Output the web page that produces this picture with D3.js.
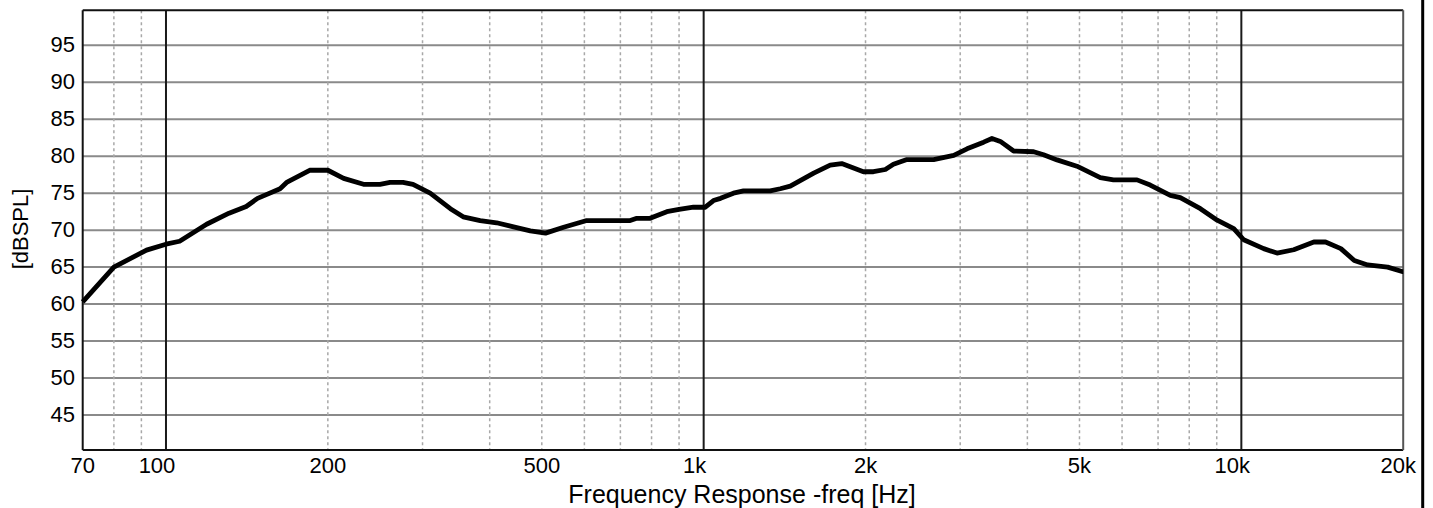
<!DOCTYPE html>
<html lang="en">
<head>
<meta charset="UTF-8">
<script src="https://d3js.org/d3.v7.min.js"></script>
<style>
    body { margin: 0; background: #fff; }
    svg { display: block; font-family: "Liberation Sans", Arial, sans-serif; }
    .tick-label { font-size: 22px; fill: #000; }
    .axis-title { font-size: 25px; fill: #000; }
</style>
<title>Frequency Response</title>
</head>
<body>
<svg id="chart" width="1433" height="508"></svg>
<script>
    var freqs = [70, 80, 92, 100, 106, 119, 131, 141, 148, 163, 168, 185, 200, 214, 233, 250,
        261, 276, 288, 310, 338, 357, 384, 412, 443, 476, 508, 549, 606, 730, 751, 795, 854, 900,
        957, 1007, 1043, 1075, 1136, 1186, 1330, 1388, 1449, 1602, 1719, 1806, 1982, 2069, 2177,
        2254, 2388, 2677, 2918, 3089, 3317, 3437, 3563, 3771, 4109, 4287, 4542, 4945, 5466, 5782,
        6398, 6769, 7378, 7700, 8392, 9017, 9680, 10101, 11004, 11650, 12515, 13640, 14339,
        15314, 16219, 17174, 18712, 19906, 20000];
    var spl = [60.3, 65.0, 67.3, 68.1, 68.5, 70.8, 72.3, 73.2, 74.3, 75.6, 76.5, 78.1, 78.1, 77.0, 76.2, 76.2,
        76.45, 76.45, 76.2, 75.0, 72.9, 71.8, 71.3, 71.0, 70.45, 69.9, 69.6, 70.4, 71.3, 71.3, 71.6, 71.6, 72.5, 72.8,
        73.1, 73.1, 74.0, 74.3, 75.0, 75.3, 75.3, 75.6, 75.95, 77.7, 78.8, 79.0, 77.9, 77.9, 78.2,
        78.9, 79.55, 79.55, 80.1, 81.0, 81.9, 82.4, 82.0, 80.7, 80.6, 80.2, 79.5, 78.65, 77.1, 76.8,
        76.8, 76.1, 74.7, 74.4, 72.9, 71.35, 70.2, 68.7, 67.5, 66.9, 67.35, 68.4, 68.4,
        67.5, 65.9, 65.3, 65.0, 64.4, 64.4];

    var yTicks = [45, 50, 55, 60, 65, 70, 75, 80, 85, 90, 95];
    var xTicks = [70, 100, 200, 500, 1000, 2000, 5000, 10000, 20000];
    var xTickLabels = ["70", "100", "200", "500", "1k", "2k", "5k", "10k", "20k"];
    var majorLines = [100, 1000, 10000];
    var minorLines = [80, 90, 200, 300, 400, 500, 600, 700, 800, 900,
        2000, 3000, 4000, 5000, 6000, 7000, 8000, 9000];

    var plotLeft = 82.7, plotRight = 1403.2, plotTop = 10.3, plotBottom = 450;

    var svg = d3.select("#chart");

    var x = d3.scaleLog().domain([70, 20000]).range([plotLeft, plotRight]);
    var y = d3.scaleLinear().domain([40.27, 99.73]).range([plotBottom, plotTop]);

    // horizontal grid
    svg.append("g").selectAll("line")
        .data(yTicks)
        .enter().append("line")
        .attr("x1", plotLeft).attr("x2", plotRight)
        .attr("y1", function (d) { return y(d); })
        .attr("y2", function (d) { return y(d); })
        .attr("stroke", "#8a8a8a")
        .attr("stroke-width", 2);

    // minor verticals, dashed
    svg.append("g").selectAll("line")
        .data(minorLines)
        .enter().append("line")
        .attr("x1", function (d) { return x(d); })
        .attr("x2", function (d) { return x(d); })
        .attr("y1", plotTop).attr("y2", plotBottom)
        .attr("stroke", "#a8a8a8")
        .attr("stroke-width", 1.5)
        .attr("stroke-dasharray", "3,3");

    // decade lines
    svg.append("g").selectAll("line")
        .data(majorLines)
        .enter().append("line")
        .attr("x1", function (d) { return x(d); })
        .attr("x2", function (d) { return x(d); })
        .attr("y1", plotTop).attr("y2", plotBottom)
        .attr("stroke", "#1a1a1a")
        .attr("stroke-width", 2);

    // frame
    svg.append("line").attr("x1", plotLeft).attr("x2", plotRight).attr("y1", plotTop).attr("y2", plotTop)
        .attr("stroke", "#111").attr("stroke-width", 2);
    svg.append("line").attr("x1", plotLeft).attr("x2", plotRight).attr("y1", plotBottom).attr("y2", plotBottom)
        .attr("stroke", "#111").attr("stroke-width", 2);
    svg.append("line").attr("x1", plotLeft).attr("x2", plotLeft).attr("y1", plotTop).attr("y2", plotBottom)
        .attr("stroke", "#111").attr("stroke-width", 2);
    svg.append("line").attr("x1", plotRight).attr("x2", plotRight).attr("y1", plotTop).attr("y2", plotBottom)
        .attr("stroke", "#555").attr("stroke-width", 2);

    // stray border line at the right of the image
    svg.append("line").attr("x1", 1422.7).attr("x2", 1422.7).attr("y1", 0).attr("y2", 508)
        .attr("stroke", "#000").attr("stroke-width", 3);

    // y labels
    svg.append("g").selectAll("text")
        .data(yTicks)
        .enter().append("text")
        .attr("class", "tick-label")
        .attr("x", 75)
        .attr("y", function (d) { return y(d) + 6.5; })
        .attr("text-anchor", "end")
        .text(function (d) { return d; });

    // x labels (decade labels sit a little left of their line)
    svg.append("g").selectAll("text")
        .data(xTicks)
        .enter().append("text")
        .attr("class", "tick-label")
        .attr("x", function (d, i) {
            var shift = (majorLines.indexOf(d) >= 0) ? -9 : (d === 20000 ? -5 : 0);
            return x(d) + shift;
        })
        .attr("y", 473)
        .attr("text-anchor", "middle")
        .text(function (d, i) { return xTickLabels[i]; });

    svg.append("text")
        .attr("class", "axis-title")
        .attr("x", 742)
        .attr("y", 503)
        .attr("text-anchor", "middle")
        .text("Frequency Response -freq [Hz]");

    svg.append("text")
        .attr("class", "axis-title")
        .attr("transform", "translate(28,229) rotate(-90)")
        .attr("text-anchor", "middle")
        .style("font-size", "22px")
        .text("[dBSPL]");

    // response curve
    var line = d3.line()
        .x(function (d) { return x(d[0]); })
        .y(function (d) { return y(d[1]); });

    svg.append("path")
        .datum(d3.zip(freqs, spl))
        .attr("d", line)
        .attr("fill", "none")
        .attr("stroke", "#000")
        .attr("stroke-width", 4.8)
        .attr("stroke-linejoin", "round");
</script>
</body>
</html>
